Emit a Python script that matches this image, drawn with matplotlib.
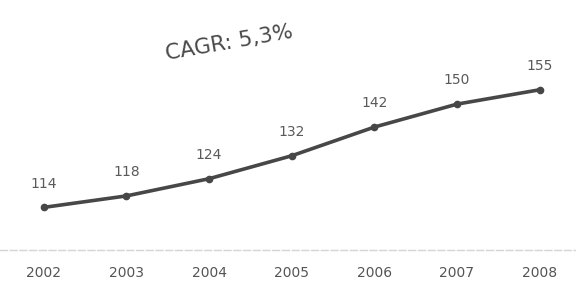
import matplotlib
matplotlib.use("Agg")
import matplotlib.pyplot as plt

years = [2002, 2003, 2004, 2005, 2006, 2007, 2008]
values = [114, 118, 124, 132, 142, 150, 155]
cagr_label = "CAGR: 5,3%"

fig = plt.figure(figsize=(5.76, 2.82), dpi=100)
ax = fig.add_axes([0, 0.113, 1, 0.887])

ax.plot(years, values, color="#474747", linewidth=2.6, marker="o",
        markersize=4.5, solid_capstyle="round")
for x, v in zip(years, values):
    ax.annotate(str(v), (x, v), xytext=(0, 12), textcoords="offset points",
                ha="center", va="bottom", fontsize=10, color="#5a5a5a")

ax.text(0.398, 0.83, cagr_label, transform=ax.transAxes, rotation=10,
        ha="center", va="center", fontsize=15.5, color="#4a4a4a")

ax.set_xlim(2001.47, 2008.44)
ax.set_ylim(99.1, 186.3)
ax.set_xticks(years)
ax.set_xticklabels([str(y) for y in years], fontsize=10, color="#555555")
ax.tick_params(axis="x", length=0, pad=11.5)
ax.set_yticks([])
for side in ["top", "left", "right"]:
    ax.spines[side].set_visible(False)
ax.spines["bottom"].set_color("#d4d4d4")
ax.spines["bottom"].set_linestyle((0, (5, 2)))
ax.spines["bottom"].set_linewidth(1.0)

fig.savefig("out.png", dpi=100)
plt.close(fig)
